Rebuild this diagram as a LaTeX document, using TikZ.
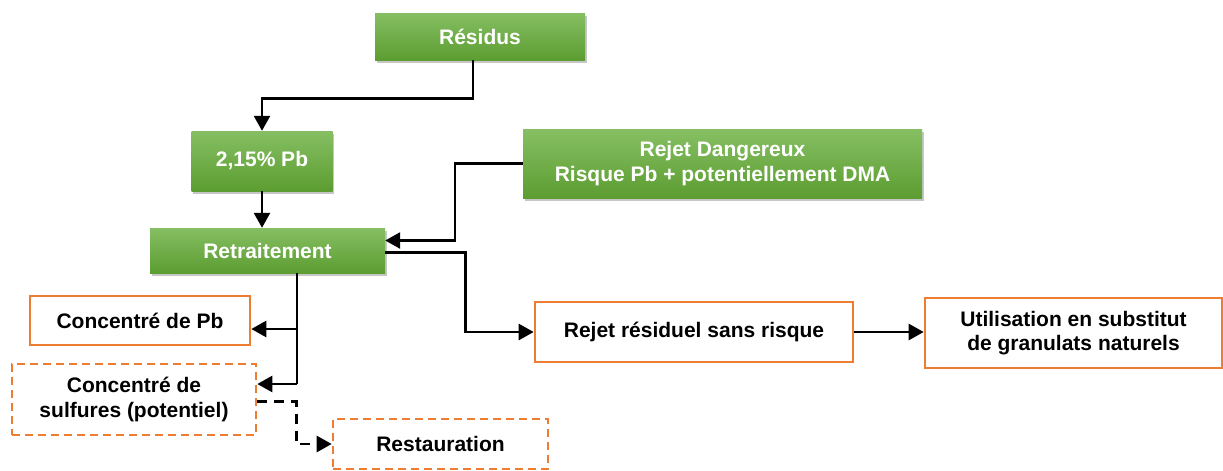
\documentclass[tikz,border=0pt]{standalone}
\usepackage{fontspec}
\setmainfont{Liberation Sans}
\usepackage{tikz}
\usetikzlibrary{arrows.meta,shadows}
\definecolor{greentop}{HTML}{86BF63}
\definecolor{greenbot}{HTML}{5C9D31}
\definecolor{orangeline}{HTML}{ED7D31}

\begin{document}
\begin{tikzpicture}[x=1pt,y=-1pt,
		font=\fontsize{21}{24.5}\selectfont\bfseries,
		greenbox/.style={rectangle, top color=greentop, bottom color=greenbot, text=white, align=center, inner sep=0pt,
			drop shadow={shadow xshift=1.5pt, shadow yshift=-2.5pt, opacity=0.45}},
		orangebox/.style={rectangle, draw=orangeline, line width=2.6pt, fill=white, align=center, inner sep=0pt},
		dashbox/.style={orangebox, dash pattern=on 8pt off 5pt},
		link/.style={line width=2.6pt, black},
		arr/.style={link, -{Triangle[length=15pt, width=16pt]}},
		darr/.style={arr, dash pattern=on 10pt off 7pt}]
				\useasboundingbox (0,0) rectangle (1223,471);

				% upper chain
				\node[greenbox, minimum width=210pt, minimum height=47pt] (res) at (480,36.5) {Résidus};
				\node[greenbox, minimum width=141pt, minimum height=60pt] (pb) at (262,161) {2,15\% Pb};
				\node[greenbox, minimum width=235pt, minimum height=45pt] (ret) at (267.5,250.5) {Retraitement};
				\node[greenbox, minimum width=399pt, minimum height=69pt] (dang) at (722.5,163.5) {Rejet Dangereux\\Risque Pb + potentiellement DMA};

				% outputs
				\node[orangebox, minimum width=220pt, minimum height=49pt] (cpb) at (140,320.5) {Concentré de Pb};
				\node[dashbox, minimum width=244pt, minimum height=71pt] (sulf) at (134,399.5) {Concentré de\\sulfures (potentiel)};
				\node[dashbox, minimum width=215pt, minimum height=50pt] (rest) at (440.5,444) {Restauration};
				\node[orangebox, minimum width=318pt, minimum height=60pt] (rrs) at (694,332) {Rejet résiduel sans risque};
				\node[orangebox, minimum width=297pt, minimum height=70pt] (util) at (1073.5,333) {Utilisation en substitut\\de granulats naturels};

				\coordinate (t1) at (297,329);
				\coordinate (t2) at (297,384);

				\draw[arr] ([xshift=-7pt]res.south) -- ++(0,38) -| (pb.north);
				\draw[arr] (pb.south) -- (ret.north -| pb.south);
				\draw[arr] (dang.west) -- ++(-68,0) |- ([yshift=10pt]ret.east);
				\draw[arr] ([yshift=-2pt]ret.east) -- ++(80,0) |- (rrs.west);
				\draw[arr] (rrs.east) -- (util.west |- rrs.east);

				\draw[link] (ret.south -| t1) -- (t2);
				\draw[arr] (t1) -- (cpb.east |- t1);
				\draw[arr] (t2) -- (sulf.east |- t2);
				\draw[darr] ([yshift=-2pt]sulf.east) -- ++(39,0) |- (rest.west);
			\end{tikzpicture}
\end{document}
